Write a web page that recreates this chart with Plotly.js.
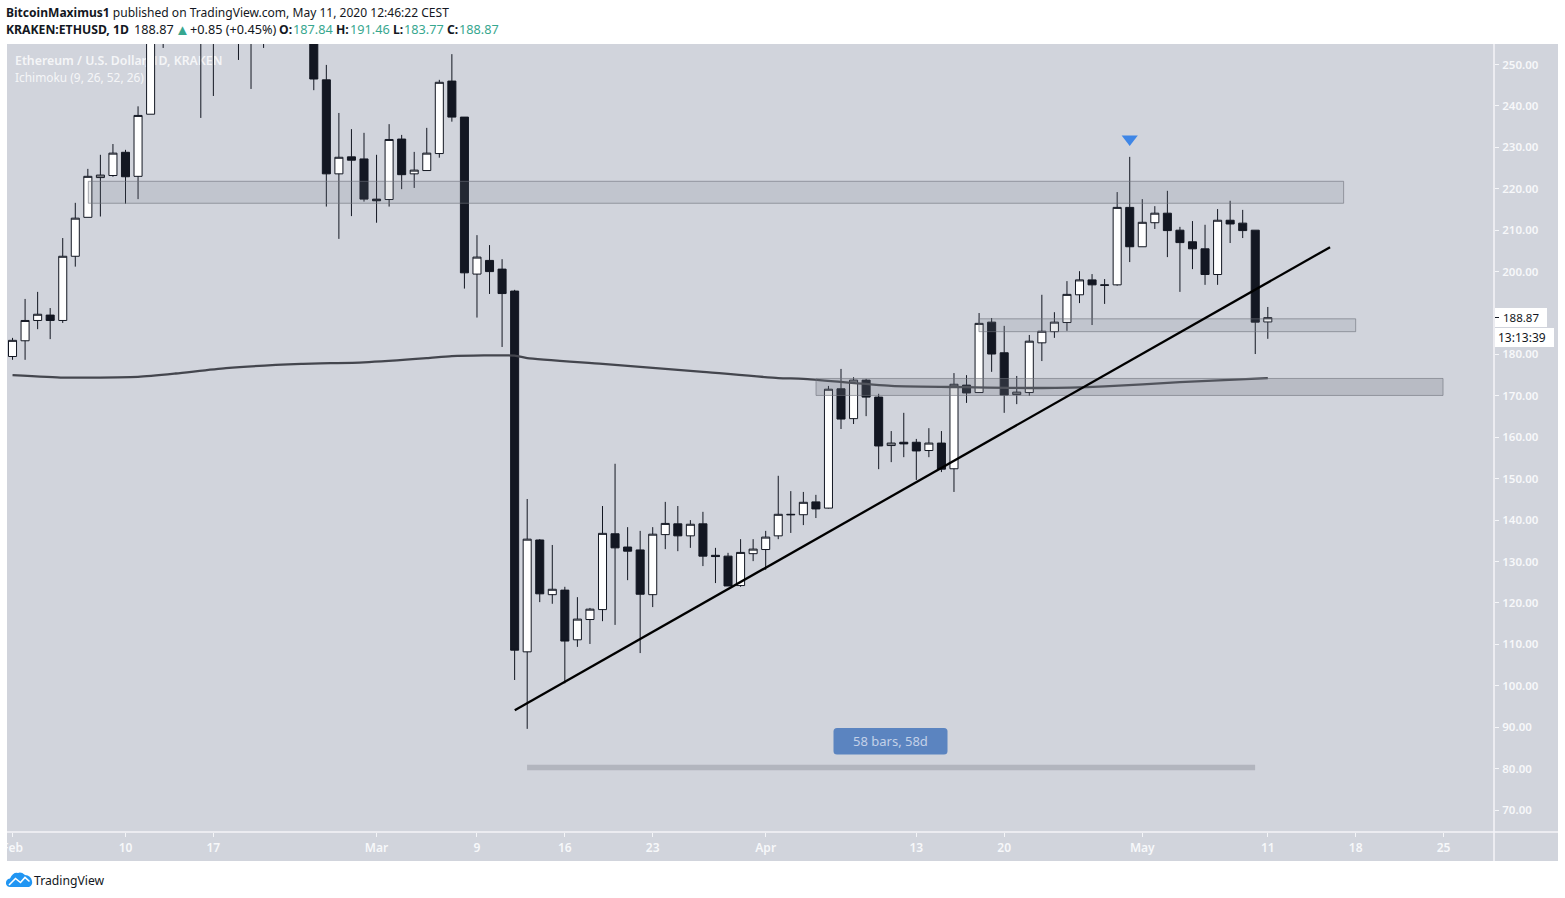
<!DOCTYPE html>
<html><head><meta charset="utf-8">
<script src="https://cdn.plot.ly/plotly-3.0.1.min.js"></script>
<style>html,body{margin:0;padding:0;background:#fff}#wrap{position:relative;width:1565px;height:898px}#chart{width:1565px;height:898px}
#clip{position:absolute;left:0;top:836px;width:7px;height:26px;background:#fff}</style>
</head><body><div id="wrap"><div id="chart"></div><div id="clip"></div></div>
<script>
// Daily candles, first bar 2020-02-01
const firstDay = Date.UTC(2020, 1, 1);
const opens = [179.5,183.3,188.2,189.5,188.2,203.7,213.1,222.7,223.2,228.8,223.0,238.0,265,268,284,265,260,268,283,258,257,265,262,275,265,
246.3,223.6,227.7,227.2,217.5,217.4,232.0,223.6,224.4,228.5,246.0,237.3,199.4,202.7,200.6,195.3,108.2,135.2,122.0,123.1,111.1,116.0,118.4,136.7,133.5,132.8,122.0,136.5,139.1,136.2,139.1,131.5,131.3,124.2,131.9,
132.9,136.2,141.4,141.3,144.4,142.9,171.7,164.5,173.8,169.7,158.0,158.8,158.8,156.8,158.6,152.4,172.6,170.8,187.8,180.4,170.3,170.8,182.8,185.5,187.7,194.4,198.0,196.8,196.8,215.5,
206.0,211.8,214.1,210.0,207.2,205.5,199.3,212.4,211.7,210.0,187.84];
const highs = [184.0,193.4,195.1,191.2,208.1,216.6,224.8,228.2,230.8,229.4,239.9,276,290,288,292,276,270,285,292,262,270,268,278,280,268,
249.9,238.3,234.4,233.5,228.2,235.6,233.0,228.9,234.7,246.3,252.5,237.3,208.8,206.4,203.0,195.6,145.1,135.4,134.0,123.9,121.4,118.8,143.4,153.6,138.3,137.4,138.3,144.4,143.4,140.0,142.0,133.3,132.1,135.4,135.4,
137.4,150.7,147.0,146.8,146.1,172.4,176.5,174.5,174.1,170.5,161.5,165.9,159.6,162.2,161.5,175.5,175.0,190.0,188.8,186.9,174.8,184.7,194.4,190.2,197.7,200.1,199.4,198.2,219.2,227.7,
217.5,215.8,219.5,210.8,212.2,211.3,215.1,217.1,214.9,210.0,191.46];
const lows = [178.7,178.7,186.1,183.7,187.6,201.2,213.1,213.3,222.9,216.4,217.5,238.0,254.0,262,258,237.1,242.4,260,251.1,244.1,254.0,256,258,256,243.8,
215.7,207.9,213.4,216.9,211.8,215.7,219.9,220.2,224.4,227.5,236.2,195.9,188.9,194.6,181.8,101.4,89.6,120.2,119.8,100.6,109.4,110.1,115.6,114.7,125.5,107.9,119.0,133.0,132.5,133.3,128.9,124.8,124.1,123.9,130.1,
128.0,135.4,136.9,138.8,140.5,142.8,162.0,163.2,165.1,152.3,154.0,155.2,149.7,155.2,151.6,146.8,168.3,170.8,175.8,165.9,168.0,170.0,178.4,184.0,185.7,192.4,187.1,192.2,196.6,202.3,
206.0,210.3,203.5,195.1,200.6,196.8,196.8,206.9,208.1,180.1,183.77];
const closes = [183.4,188.2,189.7,188.2,203.7,212.9,223.0,223.3,228.6,222.9,237.7,265,268,284,265,260,268,283,258,257,265,262,275,265,246.5,
223.6,227.6,226.9,217.5,217.1,231.9,223.4,224.5,228.6,245.7,237.3,199.7,203.5,200.0,194.7,108.6,135.4,122.2,123.3,110.8,116.1,118.5,136.8,133.3,132.5,122.1,136.6,139.2,136.2,139.0,131.3,131.2,124.1,132.2,133.0,
135.9,141.4,141.3,144.3,142.7,171.6,164.4,173.8,169.7,157.9,158.6,158.4,156.7,158.6,152.3,172.8,170.7,187.5,180.1,170.2,170.9,183.2,185.6,187.8,194.5,198.0,196.8,196.7,215.5,206.0,
211.9,214.1,209.9,207.0,205.5,199.3,212.4,211.5,209.9,187.8,188.87];

// Long moving average read at sparse bars
const maDays = [0,4,5,10,13,17,23,28,33,35,40,41,47,55,61,63,70,76,82,87,93,100];
const maValues = [175.0,174.4,174.4,174.6,175.4,176.7,177.7,178.1,179.1,179.6,179.7,179.1,177.7,175.8,174.3,174.1,172.4,172.1,171.9,172.3,173.3,174.3];

const xTickDays = [0,9,16,29,37,44,51,60,72,79,90,100,107,114];
const xTickText = ['Feb','10','17','Mar','9','16','23','Apr','13','20','May','11','18','25'];
const yTickVals = [70,80,90,100,110,120,130,140,150,160,170,180,200,210,220,230,240,250];

const zones = [
  {from:6.04,to:106.04,top:221.8,bottom:216.5,alpha:0.17},
  {from:76.99,to:107.0,top:188.6,bottom:185.5,alpha:0.17},
  {from:64.01,to:113.96,top:174.2,bottom:170.1,alpha:0.27}
];
const trend = {from:40.01,to:104.96,p0:94.1,p1:205.9};
const rangeBar = {from:40.99,to:98.99,price:80.3};
const peakMark = {day:89,price:232.0};

const day = n => new Date(firstDay + n*864e5).toISOString().slice(0,19).replace('T',' ');
const X0=7,X1=1494,Y0=44,Y1=832;
const px = x => (x-X0)/(X1-X0);
const py = y => (Y1-y)/(Y1-Y0);
const PAPER = {xref:'paper',yref:'paper'};
const rect=(x0,y0,x1,y1,color,layer)=>({type:'rect',...PAPER,x0:px(x0),x1:px(x1),y0:py(y0),y1:py(y1),fillcolor:color,line:{width:0},layer:layer||'below'});
const hline=(x0,y0,x1,y1,color,w)=>({type:'line',...PAPER,x0:px(x0),x1:px(x1),y0:py(y0),y1:py(y1),line:{color:color,width:w||1},layer:'above'});
const path=(s,fill,layer,line)=>({type:'path',...PAPER,path:s.replace(/(-?[\d.]+),(-?[\d.]+)/g,(m,a,b)=>px(+a)+','+py(+b)),fillcolor:fill,line:line||{width:0},layer:layer||'above'});

const FONT='"Noto Sans", "Open Sans", sans-serif';
const TEAL='#37a78f';
const INK='#131722';
const BG='#d1d4dc';

const dates = opens.map((_,i)=>day(i));

const traces = [
  {type:'scatter',mode:'text',x:[0.0054,0.0054],y:[0.9775,0.9555],xaxis:'x',yaxis:'y',
   text:['Ethereum / U.S. Dollar, 1D, KRAKEN','Ichimoku (9, 26, 52, 26)'],textposition:'middle right',
   textfont:{family:FONT,size:[12.3,11.9],weight:[600,400],color:'rgba(255,255,255,0.8)'},hoverinfo:'skip',showlegend:false},
  {type:'candlestick',x:dates,open:opens,high:highs,low:lows,close:closes,xaxis:'x2',yaxis:'y2',
   increasing:{line:{color:INK,width:1},fillcolor:'#ffffff'},
   decreasing:{line:{color:INK,width:1},fillcolor:INK},
   whiskerwidth:0,showlegend:false,hoverinfo:'skip'},
  {type:'scatter',mode:'lines',x:maDays.map(day),y:maValues,xaxis:'x2',yaxis:'y2',line:{color:'#44464e',width:2.3,shape:'spline',smoothing:0.6},showlegend:false,hoverinfo:'skip'},
  {type:'scatter',mode:'markers',x:[day(peakMark.day)],y:[peakMark.price],xaxis:'x2',yaxis:'y2',marker:{symbol:'triangle-down',size:14,color:'#3f86e6'},showlegend:false,hoverinfo:'skip'}
];

const shapes = [
  rect(X0,Y0,1558,861,BG,'below'),
  hline(X0,832,1558,832,'#f4f5f8',1.5),
  hline(1494,Y0,1494,861,'#f4f5f8',1.5),
  ...zones.map(z=>({type:'rect',xref:'x2',yref:'y2',x0:day(z.from),x1:day(z.to),y0:z.bottom,y1:z.top,fillcolor:`rgba(120,123,134,${z.alpha})`,line:{color:'rgba(110,113,124,0.6)',width:1},layer:'above'})),
  {type:'line',xref:'x2',yref:'y2',x0:day(trend.from),x1:day(trend.to),y0:trend.p0,y1:trend.p1,line:{color:'#000000',width:2.3},layer:'above'},
  {type:'line',xref:'x2',yref:'y2',x0:day(rangeBar.from),x1:day(rangeBar.to),y0:rangeBar.price,y1:rangeBar.price,line:{color:'rgba(120,123,134,0.35)',width:5.5},layer:'above'},
  path('M837,728 L944,728 Q947.5,728 947.5,731.5 L947.5,751 Q947.5,754.5 944,754.5 L837,754.5 Q833.5,754.5 833.5,751 L833.5,731.5 Q833.5,728 837,728 Z','#5b84c0'),
  rect(1495,308,1547,327,'#ffffff','above'),
  rect(1495,328,1554,347,'#ffffff','above'),
  hline(1495,317.5,1499,317.5,INK,1),
  path('M6,884 Q5.5,879 10,878.5 Q13,872 18,873 Q21,871.5 25,875 Q31,875.5 32,881 Q33,885 29,887 L10,887 Q7,887 6,884 Z','#2196f3'),
  path('M9,885 L15.5,878.5 L20.5,882.5 L25,877.5 L29.5,881.5',  'rgba(0,0,0,0)','above',{color:'#ffffff',width:1.6})
];

const ann=(x,y,text,opt)=>{const centered=opt&&opt.xanchor==='center';return Object.assign({...PAPER,x:px(centered?x:x-2),y:py(y),text,showarrow:false,xanchor:'left',yanchor:'middle',align:'left',font:{family:FONT,size:12.05,color:INK}},opt||{});};
const num={font:{family:FONT,size:12.7,color:INK}};
const teal={font:{family:FONT,size:12.7,color:TEAL}};
const bold={font:{family:FONT,size:12.2,color:INK}};
const annotations = [
  ann(6,13,'<b>BitcoinMaximus1</b> published on TradingView.com, May 11, 2020 12:46:22 CEST'),
  ann(6,29.5,'<b>KRAKEN:ETHUSD, 1D</b>',bold),
  ann(134,29.5,'188.87',num),
  ann(175,29.5,'▲',{font:{family:FONT,size:15,color:TEAL}}),
  ann(190,29.5,'+0.85 (+0.45%)',num),
  ann(279,29.5,'<b>O:</b>',bold), ann(293,29.5,'187.84',teal),
  ann(336,29.5,'<b>H:</b>',bold), ann(350,29.5,'191.46',teal),
  ann(393,29.5,'<b>L:</b>',bold), ann(404,29.5,'183.77',teal),
  ann(447,29.5,'<b>C:</b>',bold), ann(459,29.5,'188.87',teal),
  ann(890.5,741,'58 bars, 58d',{xanchor:'center',font:{family:FONT,size:13,color:'#c3d1e8'}}),
  ann(1503,317.5,'188.87',{font:{family:FONT,size:11.5,color:INK}}),
  ann(1498,337.5,'13:13:39',{font:{family:FONT,size:12,color:INK}}),
  ann(34,880,'TradingView',{font:{family:FONT,size:12.2,color:INK}})
];

const layout = {
  width:1565,height:898,autosize:false,
  margin:{l:X0,r:1565-X1,t:Y0,b:898-Y1,pad:0},
  paper_bgcolor:'#ffffff',plot_bgcolor:'rgba(0,0,0,0)',
  showlegend:false,hovermode:false,boxgap:0.36,boxgroupgap:0,boxmode:'overlay',
  font:{family:FONT},
  xaxis:{range:[0,1],visible:false,fixedrange:true},
  yaxis:{range:[0,1],visible:false,fixedrange:true},
  xaxis2:{overlaying:'x',anchor:'y2',type:'date',range:[day(-0.44),day(118.02)],rangeslider:{visible:false},
    tickmode:'array',tickvals:xTickDays.map(day),ticktext:xTickText,ticks:'outside',ticklen:4,tickwidth:1,tickcolor:'#f4f5f8',ticklabelstandoff:1,
    showgrid:false,zeroline:false,showline:false,tickfont:{family:FONT,size:12,color:'#f7f8fa',weight:600},fixedrange:true},
  yaxis2:{overlaying:'y',anchor:'x2',side:'right',range:[64.7,254.95],tickmode:'array',tickvals:yTickVals,tickformat:'.2f',
    ticks:'outside',ticklen:4,tickwidth:1,tickcolor:'#f4f5f8',ticklabelstandoff:1,showgrid:false,zeroline:false,showline:false,
    tickfont:{family:FONT,size:11.5,color:'#f7f8fa',weight:600},fixedrange:true},
  shapes,annotations
};
Plotly.newPlot('chart',traces,layout,{displayModeBar:false,staticPlot:true});
</script>
</body></html>
